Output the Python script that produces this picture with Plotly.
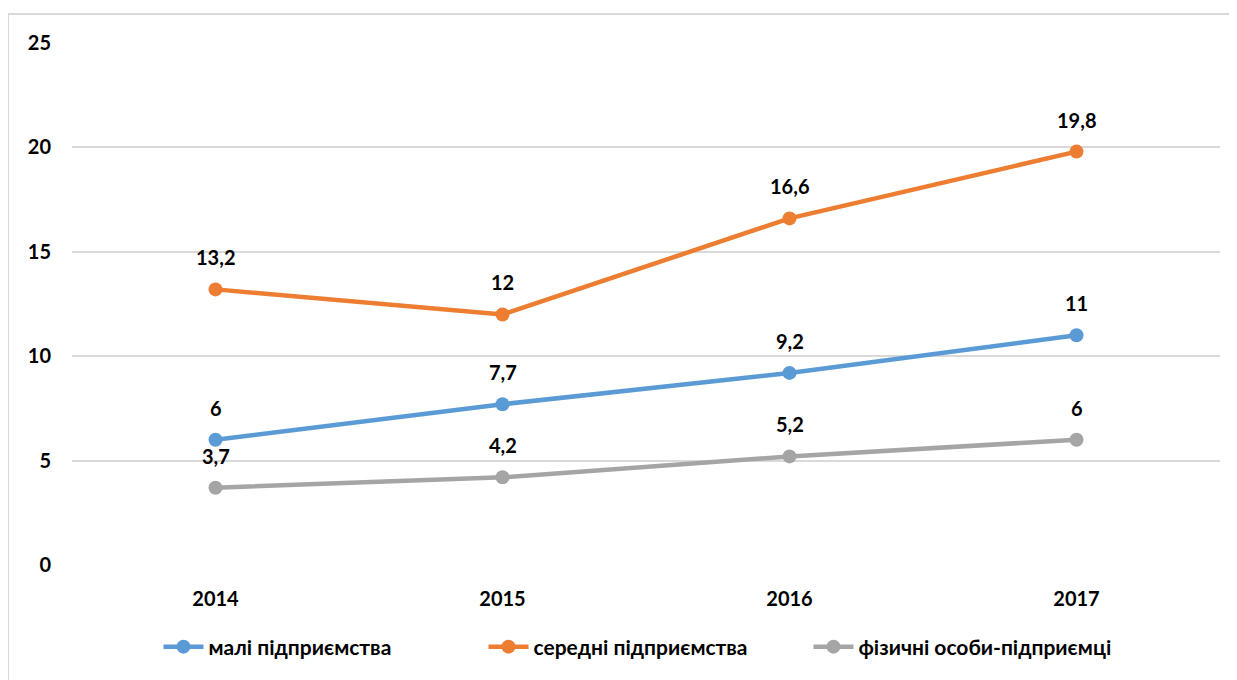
import plotly.graph_objects as go

years = ["2014", "2015", "2016", "2017"]
series_names = ["малі підприємства", "середні підприємства", "фізичні особи-підприємці"]
small = [6, 7.7, 9.2, 11]
medium = [13.2, 12, 16.6, 19.8]
individuals = [3.7, 4.2, 5.2, 6]
y_ticks = [0, 5, 10, 15, 20, 25]

colors = ["#5B9BD5", "#ED7D31", "#A5A5A5"]
FONT = "Lato, 'Open Sans', 'DejaVu Sans', sans-serif"

# page body has an 8px margin
OFF = 8
W, H = 1237 - OFF, 680 - OFF
L, R, T, B = 72 - OFF, 17 + 0, 43 - OFF, 115

fig = go.Figure()
annotations = []
for name, vals, col in zip(series_names, [small, medium, individuals], colors):
    fig.add_trace(go.Scatter(
        x=years, y=vals, name=name, mode="lines+markers",
        line=dict(color=col, width=4.5),
        marker=dict(color=col, size=14),
    ))
    for i, yv in enumerate(vals):
        annotations.append(dict(
            x=i, y=yv, xref="x", yref="y",
            text=f"{yv:g}".replace(".", ","),
            showarrow=False, yshift=32,
            font=dict(family=FONT, size=20, color="#000000", weight="bold"),
        ))

pw = W - L - R
ph = H - T - B
shapes = [dict(
    type="rect", xref="paper", yref="paper",
    x0=(0 - L) / pw, x1=(W + 10 - L) / pw,
    y0=-(H + 10 - T - ph) / ph, y1=(ph + (T - 6)) / ph,
    line=dict(color="#D9D9D9", width=2), fillcolor="rgba(0,0,0,0)", layer="below",
)]

legend_center_y = 647 - OFF
fig.update_layout(
    width=W, height=H,
    margin=dict(l=L, r=R, t=T, b=B),
    paper_bgcolor="white", plot_bgcolor="white",
    showlegend=True,
    legend=dict(orientation="h", x=0.5, xanchor="center",
                y=-(legend_center_y - (H - B)) / ph, yanchor="middle",
                font=dict(family=FONT, size=21, color="#000000", weight="bold"),
                itemwidth=40, entrywidth=270, entrywidthmode="pixels", tracegroupgap=0),
    annotations=annotations,
    shapes=shapes,
    xaxis=dict(type="category", range=[-0.5, 3.5], showgrid=False, zeroline=False,
               showline=False, ticks="", ticklabelstandoff=20,
               tickfont=dict(family=FONT, size=20, color="#000000", weight="bold")),
    yaxis=dict(range=[0, 25], tickvals=y_ticks, showgrid=True, gridcolor="#D9D9D9",
               gridwidth=1.5, zeroline=False, showline=False, ticks="",
               ticklabelstandoff=20,
               tickfont=dict(family=FONT, size=20, color="#000000", weight="bold")),
)

fig.write_html("out.html")
